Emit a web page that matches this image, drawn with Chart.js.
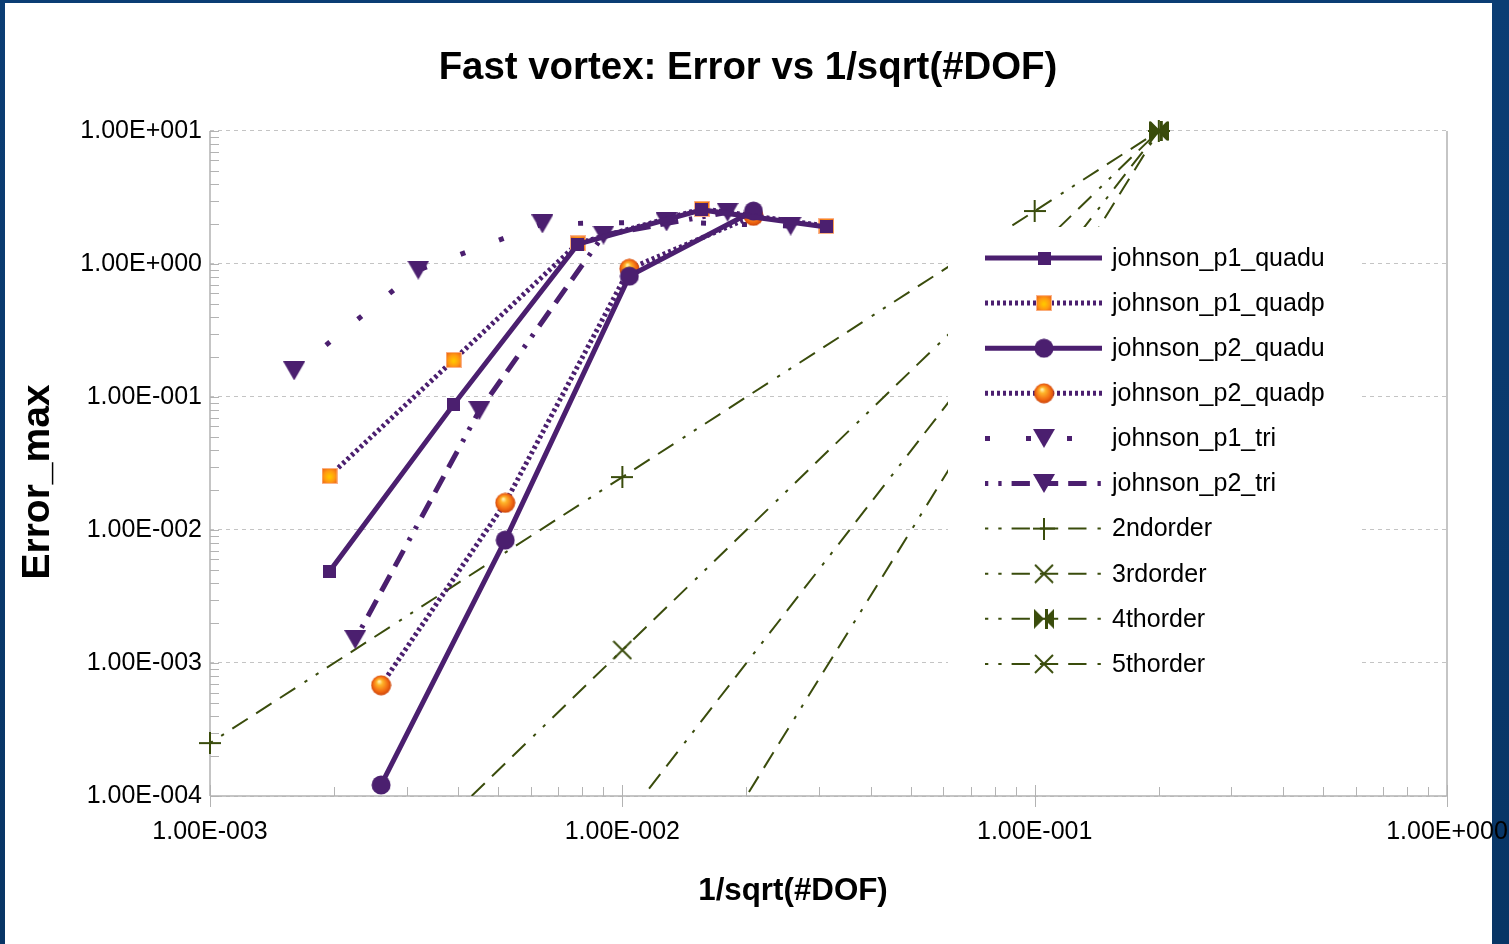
<!DOCTYPE html>
<html><head><meta charset="utf-8">
<script src="https://cdn.jsdelivr.net/npm/chart.js@4.4.1/dist/chart.umd.min.js"></script>
<style>html,body{margin:0;padding:0;background:#0a3a6c;overflow:hidden}canvas{display:block}</style>
</head><body>
<canvas id="c" width="1509" height="944"></canvas>
<script>
// ---------------- data ----------------
const chartTitle = 'Fast vortex: Error vs 1/sqrt(#DOF)';
const xAxisTitle = '1/sqrt(#DOF)';
const yAxisTitle = 'Error_max';
const seriesNames = ['johnson_p1_quadu','johnson_p1_quadp','johnson_p2_quadu','johnson_p2_quadp','johnson_p1_tri','johnson_p2_tri','2ndorder','3rdorder','4thorder','5thorder'];

const xP1 = [0.00195, 0.0039, 0.0078, 0.0156, 0.03125];
const yP1Quadu = [0.0049, 0.088, 1.41, 2.55, 1.90];
const yP1Quadp = [0.0255, 0.19, 1.43, 2.60, 1.93];

const xP2 = [0.0026, 0.0052, 0.0104, 0.0208];
const yP2Quadu = [0.000121, 0.0084, 0.81, 2.50];
const yP2Quadp = [0.00068, 0.016, 0.92, 2.30];

const xTri1 = [0.0016, 0.0032, 0.0064, 0.0128, 0.0256];
const yP1Tri = [0.157, 0.90, 2.00, 2.07, 1.93];

const xTri2 = [0.00225, 0.0045, 0.009, 0.018];
const yP2Tri = [0.0015, 0.079, 1.65, 2.45];

const xOrder = [0.001, 0.01, 0.1, 0.2];
const y2nd = [0.00025, 0.025, 2.5, 10];
const y3rd = [0.00000125, 0.00125, 1.25, 10];
const y4th = [0.0000000625, 0.0000625, 0.625, 10];
const y5th = [0.000000003125, 0.000003125, 0.3125, 10];

const xTickValues = [0.001, 0.01, 0.1, 1];
const xTickLabels = ['1.00E-003','1.00E-002','1.00E-001','1.00E+000'];
const yTickValues = [0.0001, 0.001, 0.01, 0.1, 1, 10];
const yTickLabels = ['1.00E-004','1.00E-003','1.00E-002','1.00E-001','1.00E+000','1.00E+001'];

// ---------------- styles ----------------
const PURPLE = '#4b1f6f';
const OLIVE = '#3a4c0c';
const AXIS = '#b3b3b3';
const FONT = '"Liberation Sans", Arial, sans-serif';
const DOTTED = [3, 3];
const SPARSE = [5, 36];
const DASHDOT = [3.3, 10, 3.3, 10, 18.3, 10, 18.3, 10, 18.3, 11];

function makeMarker(w, h, draw) {
  const c = document.createElement('canvas');
  c.width = w; c.height = h;
  draw(c.getContext('2d'), w, h);
  return c;
}
const mSquarePurple = makeMarker(13, 13, (g, w, h) => { g.fillStyle = PURPLE; g.fillRect(0, 0, w, h); });
const mSquareOrange = makeMarker(16, 16, (g, w, h) => {
  g.fillStyle = '#fbb38a'; g.fillRect(0, 0, w, h);
  const gr = g.createRadialGradient(w/2, h/2 + 1, 1, w/2, h/2, w * 0.7);
  gr.addColorStop(0, '#ffc400'); gr.addColorStop(0.45, '#ff9a12'); gr.addColorStop(1, '#e8541a');
  g.fillStyle = gr; g.fillRect(1, 1, w - 2, h - 2);
});
const mCirclePurple = makeMarker(20, 20, (g, w, h) => {
  g.fillStyle = PURPLE; g.beginPath(); g.arc(w/2, h/2, 9.5, 0, Math.PI * 2); g.fill();
});
const mSphereOrange = makeMarker(21, 21, (g, w, h) => {
  const gr = g.createRadialGradient(w/2 - 2, h/2 - 4, 0.5, w/2, h/2, 10.5);
  gr.addColorStop(0, '#fff4b0'); gr.addColorStop(0.25, '#ffb52a');
  gr.addColorStop(0.7, '#f26a12'); gr.addColorStop(1, '#c8400a');
  g.fillStyle = gr; g.beginPath(); g.arc(w/2, h/2, 10, 0, Math.PI * 2); g.fill();
});
const mTriangle = makeMarker(22, 19, (g, w, h) => {
  g.fillStyle = PURPLE; g.beginPath(); g.moveTo(0, 0); g.lineTo(w, 0); g.lineTo(w/2, h); g.closePath(); g.fill();
});
const mPlus = makeMarker(22, 22, (g, w, h) => {
  g.strokeStyle = OLIVE; g.lineWidth = 2; g.beginPath();
  g.moveTo(0, h/2); g.lineTo(w, h/2); g.moveTo(w/2, 0); g.lineTo(w/2, h); g.stroke();
});
const mX = makeMarker(20, 20, (g, w, h) => {
  g.strokeStyle = OLIVE; g.lineWidth = 2; g.beginPath();
  g.moveTo(1, 1); g.lineTo(w - 1, h - 1); g.moveTo(w - 1, 1); g.lineTo(1, h - 1); g.stroke();
});
const mBowtie = makeMarker(20, 20, (g, w, h) => {
  g.fillStyle = OLIVE; g.beginPath();
  g.moveTo(0, 0); g.lineTo(w/2, h/2); g.lineTo(0, h); g.closePath();
  g.moveTo(w, 0); g.lineTo(w/2, h/2); g.lineTo(w, h); g.closePath(); g.fill();
  g.fillRect(w/2 + 1, 0, 3, h);
});

const toXY = (xs, ys) => xs.map((x, i) => ({ x, y: ys[i] }));

function series(label, xs, ys, color, width, dash, marker, extra) {
  return Object.assign({
    label, data: toXY(xs, ys),
    borderColor: color, backgroundColor: color, borderWidth: width, borderDash: dash,
    pointStyle: marker, pointRadius: 10, pointHoverRadius: 10,
    tension: 0, fill: false
  }, extra || {});
}
const orderClip = { left: 15, top: 15, right: 0, bottom: 0 };

const datasets = [
  series(seriesNames[0], xP1, yP1Quadu, PURPLE, 5, [], mSquarePurple),
  series(seriesNames[1], xP1, yP1Quadp, PURPLE, 5, DOTTED, mSquareOrange),
  series(seriesNames[2], xP2, yP2Quadu, PURPLE, 5, [], mCirclePurple),
  series(seriesNames[3], xP2, yP2Quadp, PURPLE, 5, DOTTED, mSphereOrange),
  series(seriesNames[4], xTri1, yP1Tri, PURPLE, 5, SPARSE, mTriangle),
  series(seriesNames[5], xTri2, yP2Tri, PURPLE, 5, DASHDOT, mTriangle),
  series(seriesNames[6], xOrder, y2nd, OLIVE, 2, DASHDOT, mPlus, { clip: orderClip }),
  series(seriesNames[7], xOrder, y3rd, OLIVE, 2, DASHDOT, mX, { clip: orderClip }),
  series(seriesNames[8], xOrder, y4th, OLIVE, 2, DASHDOT, mBowtie, { clip: orderClip }),
  series(seriesNames[9], xOrder, y5th, OLIVE, 2, DASHDOT, mX, { clip: orderClip })
];

// ---------------- layout ----------------
const PANEL = { x: 5, y: 3, w: 1487, h: 945 };
const LEGEND = { x: 948, y: 227, w: 414, h: 463, row0: 258, rowH: 45.1, line0: 985, line1: 1102, mark: 1044, text: 1112 };
const XTITLE = { x: 793, y: 891, size: 31.3 };
const YTITLE = { x: 38, y: 482, size: 39 };
const PAD_LEFT = 49;

const chartPlugin = {
  id: 'decor',
  beforeDraw(chart) {
    const g = chart.ctx;
    g.save();
    const bg = g.createLinearGradient(0, 0, 0, chart.height);
    bg.addColorStop(0, '#0b3d74'); bg.addColorStop(1, '#083565');
    g.fillStyle = bg; g.fillRect(0, 0, chart.width, chart.height);
    g.fillStyle = '#ffffff'; g.fillRect(PANEL.x, PANEL.y, PANEL.w, PANEL.h);
    g.restore();
  },
  beforeDatasetsDraw(chart) {
    const g = chart.ctx, a = chart.chartArea;
    const xs = chart.scales.x, ys = chart.scales.y;
    g.save();
    g.strokeStyle = AXIS; g.lineWidth = 1;
    g.beginPath();
    for (let e = -3; e < 0; e++) {
      for (let k = 1; k <= 9; k++) {
        const px = Math.round(xs.getPixelForValue(k * Math.pow(10, e))) + 0.5;
        g.moveTo(px, a.bottom); g.lineTo(px, a.bottom - 9);
      }
    }
    for (let e = -4; e <= 1; e++) {
      for (let k = 1; k <= 9; k++) {
        const v = k * Math.pow(10, e);
        if (v > 10.0001) break;
        const py = Math.round(ys.getPixelForValue(v)) + 0.5;
        g.moveTo(a.left, py); g.lineTo(a.left + 9, py);
      }
    }
    xTickValues.forEach(v => {
      const px = Math.round(xs.getPixelForValue(v)) + 0.5;
      g.moveTo(px, a.bottom - 11); g.lineTo(px, a.bottom + 11);
    });
    g.stroke();
    g.lineWidth = 1.5;
    g.beginPath();
    g.moveTo(a.left, a.top); g.lineTo(a.left, a.bottom);
    g.moveTo(a.left, a.bottom); g.lineTo(a.right, a.bottom);
    g.moveTo(a.right, a.top); g.lineTo(a.right, a.bottom);
    g.stroke();
    g.restore();
  },
  afterDatasetsDraw(chart) {
    const g = chart.ctx;
    g.save();
    g.fillStyle = '#ffffff';
    g.fillRect(LEGEND.x, LEGEND.y, LEGEND.w, LEGEND.h);
    chart.data.datasets.forEach((ds, i) => {
      const y = LEGEND.row0 + i * LEGEND.rowH;
      g.save();
      g.strokeStyle = ds.borderColor; g.lineWidth = ds.borderWidth; g.lineCap = 'butt';
      g.setLineDash(ds.borderDash || []);
      g.beginPath(); g.moveTo(LEGEND.line0, y); g.lineTo(LEGEND.line1, y); g.stroke();
      g.restore();
      const m = ds.pointStyle;
      g.drawImage(m, LEGEND.mark - m.width / 2, y - m.height / 2);
      g.fillStyle = '#000';
      g.font = '25px ' + FONT;
      g.textBaseline = 'middle'; g.textAlign = 'left';
      g.fillText(ds.label, LEGEND.text, y + 1);
    });
    g.restore();
  },
  afterDraw(chart) {
    const g = chart.ctx;
    g.save();
    g.fillStyle = '#000';
    g.textAlign = 'center'; g.textBaseline = 'middle';
    g.font = 'bold ' + XTITLE.size + 'px ' + FONT;
    g.fillText(xAxisTitle, XTITLE.x, XTITLE.y);
    g.translate(YTITLE.x, YTITLE.y);
    g.rotate(-Math.PI / 2);
    g.font = 'bold ' + YTITLE.size + 'px ' + FONT;
    g.fillText(yAxisTitle, 0, 0);
    g.restore();
  }
};

new Chart(document.getElementById('c'), {
  type: 'line',
  data: { datasets },
  plugins: [chartPlugin],
  options: {
    responsive: false,
    animation: false,
    devicePixelRatio: 1,
    events: [],
    layout: { padding: { left: PAD_LEFT, top: 3, right: 62, bottom: 0 } },
    plugins: {
      legend: { display: false },
      tooltip: { enabled: false },
      title: {
        display: true, text: chartTitle, color: '#000',
        font: { family: FONT, size: 38.4, weight: 'bold', lineHeight: 1.2 },
        padding: { top: 42.5, bottom: 39.4 }
      }
    },
    scales: {
      x: {
        type: 'logarithmic', min: 0.001, max: 1,
        afterBuildTicks: s => { s.ticks = xTickValues.map(v => ({ value: v })); },
        afterFit: s => { s.height = 148; s.paddingLeft = 0; s.paddingRight = 0; },
        ticks: {
          autoSkip: false, maxRotation: 0, padding: 21, color: '#000',
          font: { family: FONT, size: 25 },
          callback: (v, i) => xTickLabels[i]
        },
        grid: { drawOnChartArea: false, drawTicks: false },
        border: { display: false }
      },
      y: {
        type: 'logarithmic', min: 0.0001, max: 10,
        afterBuildTicks: s => { s.ticks = yTickValues.map(v => ({ value: v })); },
        afterFit: s => { s.width = 210 - PAD_LEFT; s.paddingTop = 0; s.paddingBottom = 0; },
        ticks: {
          autoSkip: false, padding: 8, color: '#000',
          font: { family: FONT, size: 25 },
          callback: (v, i) => yTickLabels[i]
        },
        grid: { drawTicks: false, color: '#c4c4c4', lineWidth: 1 },
        border: { display: false, dash: [4, 4] }
      }
    }
  }
});
</script>
</body></html>
